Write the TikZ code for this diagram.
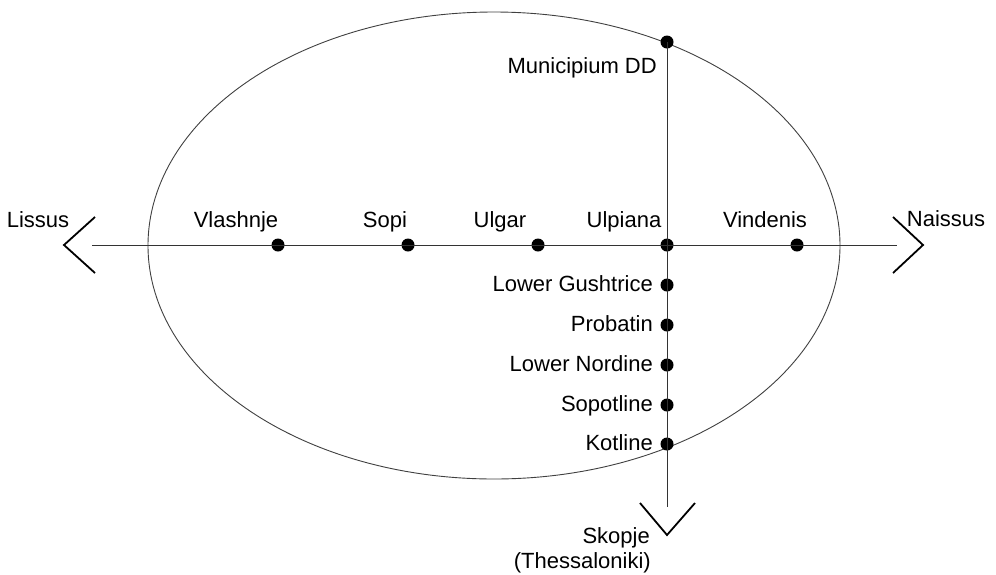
\documentclass[tikz,border=0pt]{standalone}
\usepackage{fontspec}
\setmainfont{Liberation Sans}
\begin{document}
\begin{tikzpicture}[x=1pt,y=-1pt,
  lbl/.style={font=\fontsize{22}{25}\selectfont, inner sep=0pt},
  dot/.style={circle, fill=black, minimum size=13pt, inner sep=0pt},
  road/.style={line width=0.9pt, black!80},
  chev/.style={line width=1.8pt, black, line cap=butt, line join=miter}]
\useasboundingbox (0,0) rectangle (996,574);
% ellipse
\draw[line width=0.9pt, black!75] (494,245.5) ellipse [x radius=346, y radius=233.5];
% endpoints
\coordinate (W) at (92,245);
\coordinate (E) at (897,245);
\coordinate (S) at (667,507);
% dots
\node[dot] (vla) at (278,245) {};
\node[dot] (sop) at (408,245) {};
\node[dot] (ulg) at (538,245) {};
\node[dot] (ulp) at (667,245) {};
\node[dot] (vin) at (797,245) {};
\node[dot] (mun) at (667,42) {};
\node[dot] (lgu) at (667,285) {};
\node[dot] (pro) at (667,325) {};
\node[dot] (lno) at (667,365) {};
\node[dot] (spt) at (667,405) {};
\node[dot] (kot) at (667,444) {};
% roads
\draw[road] (W) -- (E);
\draw[road] (mun.center) -- (S);
% chevrons
\coordinate (wa) at (95,217); \coordinate (wv) at (64,245); \coordinate (wb) at (95,273);
\coordinate (ea) at (893,217); \coordinate (ev) at (923,245); \coordinate (eb) at (893,273);
\coordinate (sa) at (640,503); \coordinate (sv) at (667,535); \coordinate (sb) at (695,503);
\draw[chev] (wa) -- (wv) -- (wb);
\draw[chev] (ea) -- (ev) -- (eb);
\draw[chev] (sa) -- (sv) -- (sb);
% labels
\node[lbl, anchor=base] (tLis) at (38,227) {Lissus};
\node[lbl, anchor=base] (tNai) at (946,226) {Naissus};
\node[lbl, anchor=base] (tVla) at (236,227) {Vlashnje};
\node[lbl, anchor=base] (tSop) at (385,227) {Sopi};
\node[lbl, anchor=base] (tUlg) at (500,227) {Ulgar};
\node[lbl, anchor=base] (tUlp) at (624,227) {Ulpiana};
\node[lbl, anchor=base] (tVin) at (765,227) {Vindenis};
\node[lbl, anchor=base east] (tMun) at (657,73) {Municipium DD};
\node[lbl, anchor=base east] (tLgu) at (653,291) {Lower Gushtrice};
\node[lbl, anchor=base east] (tPro) at (653,331) {Probatin};
\node[lbl, anchor=base east] (tLno) at (653,371) {Lower Nordine};
\node[lbl, anchor=base east] (tSpt) at (653,411) {Sopotline};
\node[lbl, anchor=base east] (tKot) at (653,450) {Kotline};
\node[lbl, anchor=base east] (tSko) at (650,543) {Skopje};
\node[lbl, anchor=base east] (tThe) at (651,568) {(Thessaloniki)};
\end{tikzpicture}
\end{document}
